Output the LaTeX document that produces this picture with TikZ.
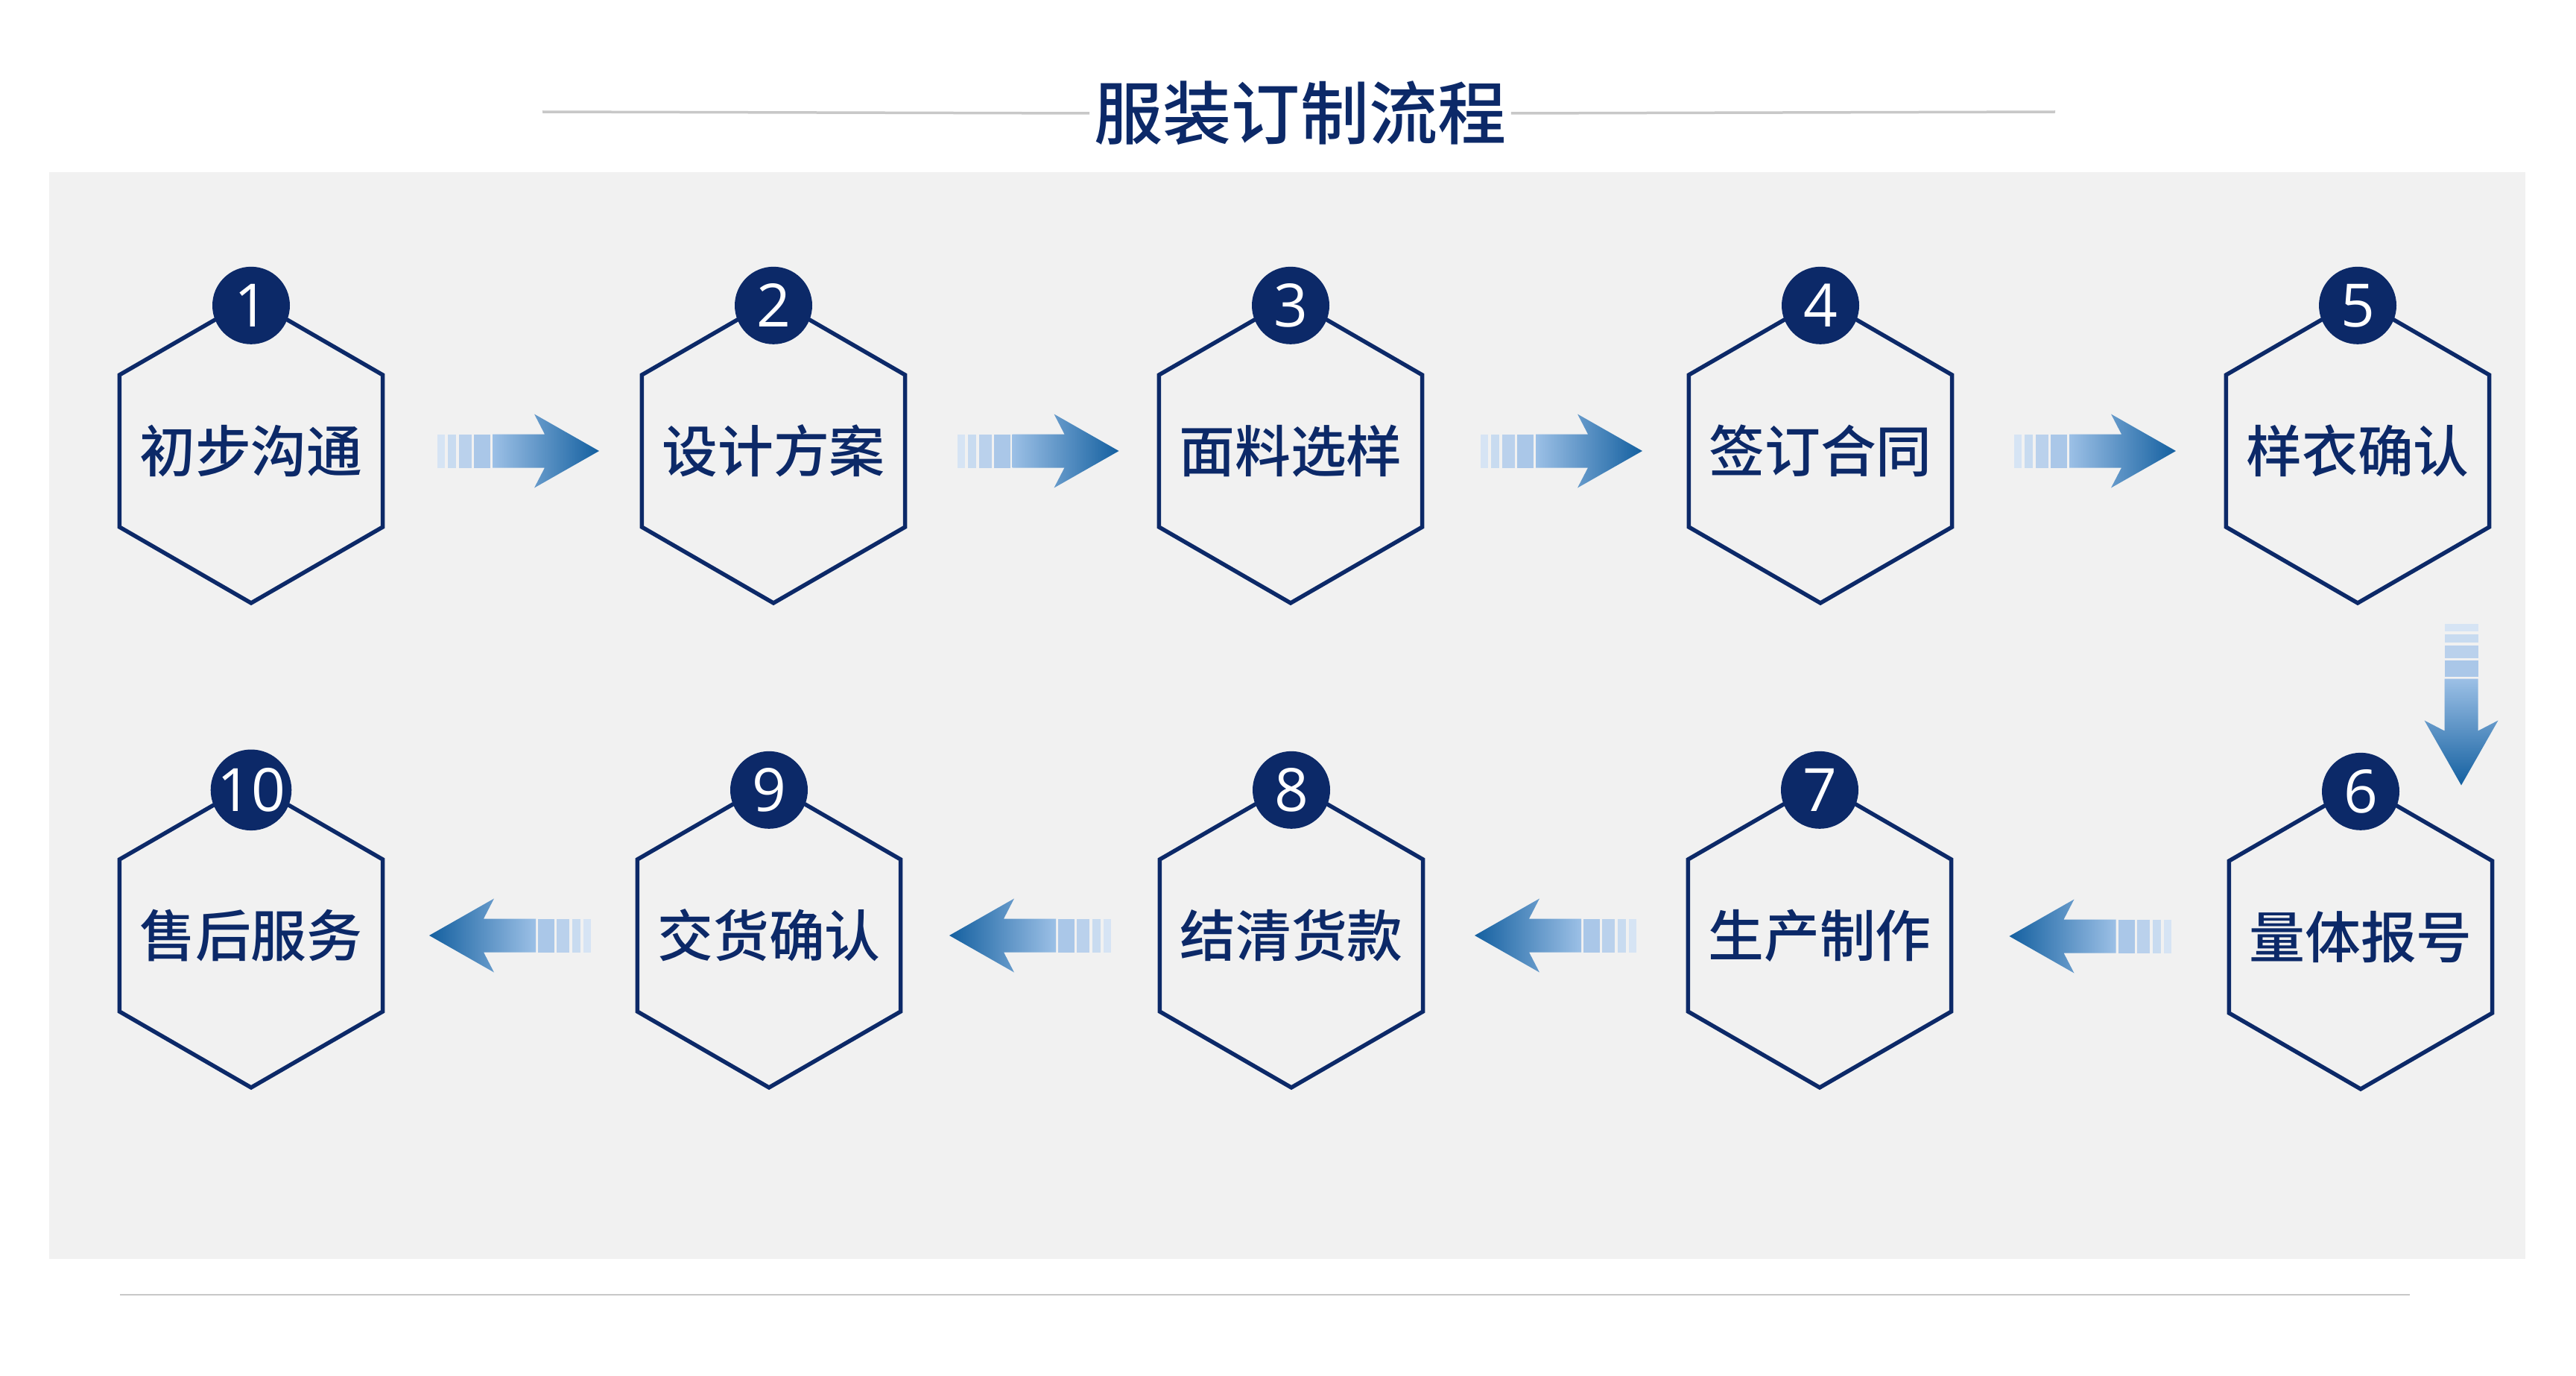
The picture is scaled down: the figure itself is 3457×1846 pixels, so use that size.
\documentclass[tikz,border=0pt]{standalone}
\usepackage{fontspec}
\setmainfont{Noto Sans CJK SC}[UprightFont=* Medium]
\newfontfamily\numfont{Open Sans}
\usetikzlibrary{positioning,calc,shapes.geometric}
\definecolor{navy}{RGB}{12,41,104}
\definecolor{panelgray}{RGB}{241,241,241}
\definecolor{rulegray}{RGB}{200,200,200}
\definecolor{arrlight}{RGB}{156,192,230}
\definecolor{arrmid}{RGB}{42,136,200}
\definecolor{arrdark}{RGB}{20,96,160}
\definecolor{strip1}{RGB}{214,228,244}
\definecolor{strip2}{RGB}{200,219,240}
\definecolor{strip3}{RGB}{186,209,236}
\definecolor{strip4}{RGB}{170,199,232}

\begin{document}
\begin{tikzpicture}[x=0.1mm, y=-0.1mm,
    hexstep/.style={draw=navy, line width=0.55mm, regular polygon, regular polygon sides=6,
                    shape border rotate=30, minimum size=40.8mm, inner sep=0pt,
                    label={[steptext]center:#1}},
    steptext/.style={text=navy, inner sep=0pt, font=\fontsize{21.3pt}{24pt}\selectfont},
    lowrow/.style={steptext/.append style={yshift=-1mm}},
    numdot/.style={circle, fill=navy, minimum size=10.4mm, inner sep=0pt, text=white,
                   font=\numfont\fontsize{22.8pt}{24pt}\selectfont},
    rshade/.style={left color=arrlight, middle color=arrmid, right color=arrdark},
    lshade/.style={left color=arrdark, middle color=arrmid, right color=arrlight},
    dshade/.style={top color=arrlight, middle color=arrmid, bottom color=arrdark},
    pics/flowarr/.style={code={
      \foreach \a/\b/\c in {-108.5/-98.5/strip1,-94.5/-83.5/strip2,-79.5/-62.5/strip3,-59.5/-37.5/strip4}
        \fill[\c] (\a,-22.5) rectangle (\b,22.5);
      \path[#1] (-34.5,-22.5) -- (35.5,-22.5) -- (21.5,-49.5) -- (108.5,0)
                -- (21.5,49.5) -- (35.5,22.5) -- (-34.5,22.5) -- cycle;
    }}]
    \useasboundingbox (0,0) rectangle (3457,1846);
    \fill[panelgray] (66,231) rectangle (3389,1689);
    % title with rules
    \node[text=navy, inner sep=0.6mm, font=\fontsize{26.2pt}{30pt}\selectfont] (title) at (1745,152) {服装订制流程};
    \coordinate (tl) at (728,150);
    \coordinate (tr) at (2758,150);
    \draw[rulegray, line width=0.35mm] (tl) -- (title.west);
    \draw[rulegray, line width=0.35mm] (title.east) -- (tr);
    \coordinate (bl) at (161,1737);
    \coordinate (br) at (3234,1737);
    \draw[rulegray, line width=0.25mm] (bl) -- (br);
    % steps
    \node[hexstep=初步沟通] (h1)  at (337,605)  {};
    \node[hexstep=设计方案] (h2)  at (1038,605) {};
    \node[hexstep=面料选样] (h3)  at (1732,605) {};
    \node[hexstep=签订合同] (h4)  at (2443,605) {};
    \node[hexstep=样衣确认] (h5)  at (3164,605) {};
    \node[lowrow,hexstep=量体报号] (h6)  at (3168,1257) {};
    \node[lowrow,hexstep=生产制作] (h7)  at (2442,1255) {};
    \node[lowrow,hexstep=结清货款] (h8)  at (1733,1255) {};
    \node[lowrow,hexstep=交货确认] (h9)  at (1032,1255) {};
    \node[lowrow,hexstep=售后服务] (h10) at (337,1255)  {};
    \foreach \h/\n in {h1/1,h2/2,h3/3,h4/4,h5/5,h6/6,h7/7,h8/8,h9/9,h10/10}
      \node[numdot] (n\n) at ($(\h.90)+(0,12)$) {\n};
    % arrows
    \foreach \a/\b in {h1/h2,h2/h3,h3/h4,h4/h5}
      \pic at ($(\a)!0.5!(\b)+(8,0)$) {flowarr=rshade};
    \foreach \a/\b in {h6/h7,h7/h8,h8/h9,h9/h10}
      \pic[rotate=180] at ($(\a)!0.5!(\b)$) {flowarr=lshade};
    \pic[rotate=-90] at ($(h5)!0.5!(h6)+(137,14)$) {flowarr=dshade};
  \end{tikzpicture}
\end{document}
